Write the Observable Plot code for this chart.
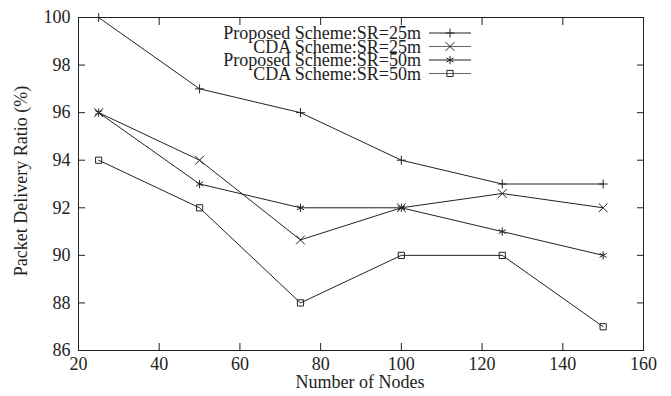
<!DOCTYPE html>
<html>
<head>
<meta charset="utf-8">
<script src="https://cdn.jsdelivr.net/npm/d3@7"></script>
<script src="https://cdn.jsdelivr.net/npm/@observablehq/plot@0.6"></script>
<style>
  html, body { margin: 0; padding: 0; background: #fff; }
  #chart svg { display: block; }
  #chart svg, #chart svg text { font-family: "Liberation Serif", "Times New Roman", "DejaVu Serif", serif !important; }
</style>
</head>
<body>
<div id="chart"></div>
<script>
const nodes = [25, 50, 75, 100, 125, 150];
const proposed25 = [100, 97, 96, 94, 93, 93];
const cda25 = [96, 94, 90.65, 92, 92.6, 92];
const proposed50 = [96, 93, 92, 92, 91, 90];
const cda50 = [94, 92, 88, 90, 90, 87];
const seriesNames = ["Proposed Scheme:SR=25m", "CDA Scheme:SR=25m", "Proposed Scheme:SR=50m", "CDA Scheme:SR=50m"];
const seriesSymbols = ["plus", "times", "asterisk", "square"];
const symbolRadius = [3.0, 4.1, 3.9, 3.5];
const xTicks = [20, 40, 60, 80, 100, 120, 140, 160];
const yTicks = [86, 88, 90, 92, 94, 96, 98, 100];

const allSeries = [proposed25, cda25, proposed50, cda50];
const seriesData = allSeries.map((vals, i) => vals.map((v, j) => ({series: seriesNames[i], x: nodes[j], y: v})));
const data = seriesData.flat();

const ink = "#222";
const fs = 18;

const plot = Plot.plot({
  width: 671,
  height: 396,
  marginLeft: 78,
  marginRight: 28,
  marginTop: 17,
  marginBottom: 46,
  style: {fontSize: fs + "px", color: ink, background: "white"},
  x: {domain: [20, 160], label: null},
  y: {domain: [86, 100], label: null},
  marks: [
    Plot.axisX({ticks: xTicks, tickSize: 0, tickPadding: 7, tickFormat: d => d, fontSize: fs}),
    Plot.axisX({ticks: xTicks, tickSize: -7, text: null, anchor: "bottom"}),
    Plot.axisX({ticks: xTicks, tickSize: -7, text: null, anchor: "top"}),
    Plot.axisY({ticks: yTicks, tickSize: 0, tickPadding: 8, tickFormat: d => d, fontSize: fs}),
    Plot.axisY({ticks: yTicks, tickSize: -7, text: null, anchor: "left"}),
    Plot.axisY({ticks: yTicks, tickSize: -7, text: null, anchor: "right"}),
    Plot.frame({stroke: ink, strokeWidth: 1}),
    Plot.line(data, {x: "x", y: "y", z: "series", stroke: ink, strokeWidth: 1}),
    ...seriesData.map((d, i) => Plot.dot(d, {x: "x", y: "y", symbol: seriesSymbols[i], r: symbolRadius[i], stroke: ink, fill: "none", strokeWidth: 1}))
  ]
});

document.getElementById("chart").appendChild(plot);

const svg = d3.select(plot);
// axis titles
svg.append("text")
  .attr("x", 360).attr("y", 388)
  .attr("text-anchor", "middle")
  .attr("font-size", fs).attr("fill", ink)
  .text("Number of Nodes");
svg.append("text")
  .attr("transform", "translate(27,181) rotate(-90)")
  .attr("text-anchor", "middle")
  .attr("font-size", fs).attr("fill", ink)
  .text("Packet Delivery Ratio (%)");

// legend
const symMap = {plus: d3.symbolPlus, times: d3.symbolTimes, asterisk: d3.symbolAsterisk, square: d3.symbolSquare};
const lg = svg.append("g");
seriesNames.forEach((name, i) => {
  const base = 39 + i * 13.5;
  const cy = base - 6;
  lg.append("text")
    .attr("x", 421).attr("y", base)
    .attr("text-anchor", "end")
    .attr("font-size", fs).attr("fill", ink)
    .text(name);
  lg.append("line")
    .attr("x1", 429).attr("x2", 471).attr("y1", cy).attr("y2", cy)
    .attr("stroke", i % 2 ? "#666" : ink).attr("stroke-width", 1);
  lg.append("path")
    .attr("transform", `translate(450,${cy})`)
    .attr("d", d3.symbol(symMap[seriesSymbols[i]], Math.PI * symbolRadius[i] ** 2)())
    .attr("fill", "none").attr("stroke", ink).attr("stroke-width", 1);
});
</script>
</body>
</html>
